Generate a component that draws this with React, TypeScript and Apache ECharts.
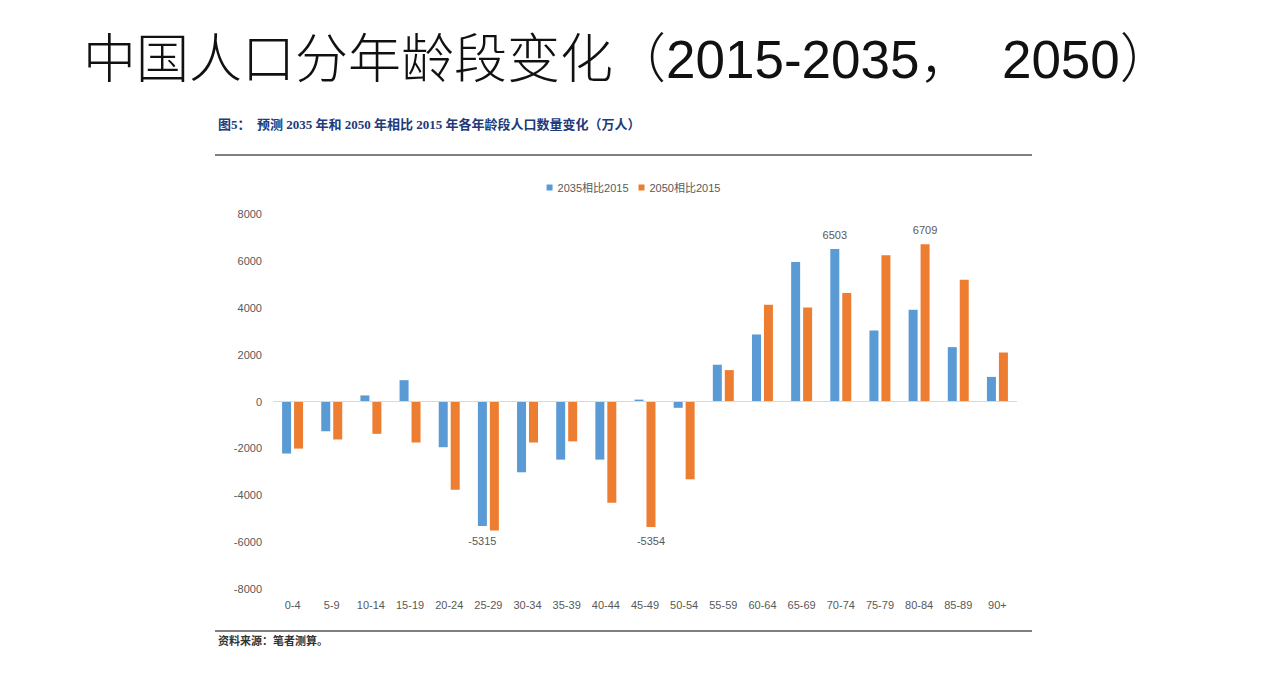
import React, { useEffect, useRef } from "react";
import * as echarts from "echarts";

const categories = ["0-4", "5-9", "10-14", "15-19", "20-24", "25-29", "30-34", "35-39", "40-44", "45-49", "50-54", "55-59", "60-64", "65-69", "70-74", "75-79", "80-84", "85-89", "90+"];
const s2035 = [-2220, -1270, 260, 910, -1950, -5315, -3020, -2480, -2480, 80, -270, 1570, 2860, 5950, 6503, 3030, 3920, 2320, 1050];
const s2050 = [-2010, -1620, -1380, -1750, -3760, -5500, -1750, -1700, -4320, -5354, -3320, 1340, 4130, 4010, 4630, 6240, 6709, 5200, 2090];
const labeled2035 = [5, 14];
const labeled2050 = [9, 16];
const seriesNames = ["2035相比2015", "2050相比2015"];
const yMin = -8000;
const yMax = 8000;
const yStep = 2000;

const titleText = "中国人口分年龄段变化（2015-2035，  2050）";
const subtitleText = "图5：  预测 2035 年和 2050 年相比 2015 年各年龄段人口数量变化（万人）";
const sourceText = "资料来源：笔者测算。";

const labelStyle = { color: "#595959", fontSize: 11, fontFamily: "Liberation Sans, Noto Sans CJK SC", distance: 9 };

function withLabels(values: number[], labeled: number[]) {
  return values.map((v, i) =>
    labeled.includes(i)
      ? { value: v, label: { show: true, position: v >= 0 ? "top" : "bottom", ...labelStyle } }
      : v
  );
}

export default function App() {
  const ref = useRef<HTMLDivElement>(null);
  useEffect(() => {
    if (!ref.current) return;
    const chart = echarts.init(ref.current, null, { renderer: "svg" });
    chart.setOption({
      animation: false,
      backgroundColor: "#ffffff",
      color: ["#5B9BD5", "#ED7D31"],
      legend: {
        data: seriesNames,
        top: 177,
        left: "center",
        icon: "rect",
        itemWidth: 6,
        itemHeight: 6,
        itemGap: 10,
        textStyle: { color: "#595959", fontSize: 11, fontFamily: "Liberation Sans, Noto Sans CJK SC" },
      },
      grid: { left: 273, right: 250, top: 214, bottom: 101, containLabel: false },
      xAxis: {
        type: "category",
        data: categories,
        axisLine: { show: false, onZero: false },
        axisTick: { show: false },
        axisLabel: { color: "#595959", fontSize: 11, margin: 10, interval: 0, fontFamily: "Liberation Sans, Noto Sans CJK SC" },
      },
      yAxis: {
        type: "value",
        min: yMin,
        max: yMax,
        interval: yStep,
        axisLine: { show: false },
        axisTick: { show: false },
        splitLine: { show: false },
        axisLabel: {
          color: "#595959",
          fontSize: 11,
          margin: 11,
          fontFamily: "Liberation Sans, Noto Sans CJK SC",
          formatter: (v: number) => String(v),
        },
      },
      series: [
        {
          name: seriesNames[0],
          type: "bar",
          barWidth: 9,
          barGap: "33%",
          data: withLabels(s2035, labeled2035),
          markLine: {
            silent: true,
            symbol: "none",
            label: { show: false },
            lineStyle: { color: "#d9d9d9", type: "solid", width: 1 },
            data: [{ yAxis: 0 }],
          },
        },
        {
          name: seriesNames[1],
          type: "bar",
          barWidth: 9,
          barGap: "33%",
          data: withLabels(s2050, labeled2050),
        },
      ],
      graphic: [
        {
          type: "text",
          left: 83,
          top: 33,
          style: { text: titleText, fontSize: 53, fill: "#111", fontFamily: "Liberation Sans, Noto Sans CJK SC", fontWeight: 300 },
        },
        {
          type: "text",
          left: 218,
          top: 118,
          style: { text: subtitleText, fontSize: 13, fill: "#22397a", fontWeight: "bold", fontFamily: "Liberation Serif, Noto Sans CJK SC" },
        },
        {
          type: "line",
          shape: { x1: 215, y1: 155, x2: 1032, y2: 155 },
          style: { stroke: "#555", lineWidth: 1.5 },
        },
        {
          type: "line",
          shape: { x1: 215, y1: 631, x2: 1032, y2: 631 },
          style: { stroke: "#555", lineWidth: 1.5 },
        },
        {
          type: "text",
          left: 218,
          top: 635,
          style: { text: sourceText, fontSize: 11, fill: "#333", fontWeight: "bold", fontFamily: "Liberation Serif, Noto Sans CJK SC" },
        },
      ],
    });
    return () => chart.dispose();
  }, []);
  return <div ref={ref} style={{ position: "fixed", left: 0, top: 0, width: 1267, height: 690 }} />;
}
